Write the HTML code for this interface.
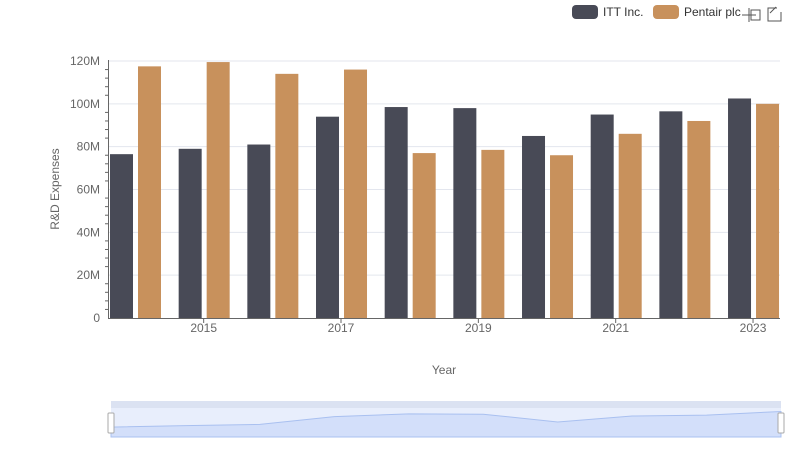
<!DOCTYPE html>
<html><head><meta charset="utf-8"><style>
body{margin:0;background:#fff;font-family:"Liberation Sans",sans-serif}
svg text{font-family:"Liberation Sans",sans-serif}
</style></head><body>
<svg id="c" width="800" height="461">
<g id="legend">
 <g><rect x="572" y="5" width="26" height="14" rx="4" fill="#484a56"/><text x="603" y="16" font-size="12" fill="#333">ITT Inc.</text></g>
 <g><rect x="653" y="5" width="26" height="14" rx="4" fill="#c8915c"/><text x="684" y="16" font-size="12" fill="#333">Pentair plc</text></g>
 <g stroke="#555" fill="none"><path d="M749 8v14M742 15h14"/><rect x="751" y="10" width="9" height="10"/></g>
 <g stroke="#555" fill="none"><path d="M777 8h-9v13h13v-9"/><path d="M776 7l-6 6"/></g>
</g>
<text x="0" y="0" transform="translate(59,189) rotate(-90)" text-anchor="middle" font-size="12" fill="#666">R&amp;D Expenses</text>
<text x="444" y="374" text-anchor="middle" font-size="12" fill="#666">Year</text>
<g id="grid"></g><g id="bars"></g><g id="axes"></g>
<g>
 <rect x="111" y="401" width="670" height="36" fill="#e8eefc"/>
 <rect x="111" y="401" width="670" height="7" fill="#dbe2f2"/>
 <path id="navArea" fill="#d3dffa" stroke="#a9c0f0"/>
 <rect x="108" y="413" width="6" height="20" fill="#fff" stroke="#aaa" rx="1"/>
 <rect x="778" y="413" width="6" height="20" fill="#fff" stroke="#aaa" rx="1"/>
</g>
</svg>
<script>
const years=[2014,2015,2016,2017,2018,2019,2020,2021,2022,2023];
const ittValues=[76.5,79,81,94,98.5,98,85,95,96.5,102.5];
const pentairValues=[117.5,119.5,114,116,77,78.5,76,86,92,100];
const yTicks=[0,20,40,60,80,100,120];
const xTickLabels=[2015,2017,2019,2021,2023];
const NS="http://www.w3.org/2000/svg";
const y=v=>318-v*(257/120);
const x=i=>135+i*68.67;
function mk(tag,attrs,parent,txt){const e=document.createElementNS(NS,tag);for(const k in attrs)e.setAttribute(k,attrs[k]);if(txt!=null)e.textContent=txt;parent.appendChild(e);return e;}
const grid=document.getElementById('grid'),bars=document.getElementById('bars'),axes=document.getElementById('axes');
yTicks.forEach(t=>{
 if(t>0){const l=mk('line',{x1:109,x2:780,y1:y(t),y2:y(t),stroke:'#e3e6ee'},grid);
 
 }
 const tx=mk('text',{x:100,y:y(t)+4,'text-anchor':'end','font-size':12,fill:'#666'},axes,t===0?'0':t+'M');
 
 
 if(t<120)for(let k=1;k<5;k++)mk('line',{x1:105,x2:108,y1:y(t+k*4),y2:y(t+k*4),stroke:'#666'},axes);
});
mk('line',{x1:108.5,x2:108.5,y1:60,y2:318,stroke:'#666'},axes);
mk('line',{x1:108,x2:780,y1:318.5,y2:318.5,stroke:'#666'},axes);
years.forEach((yr,i)=>{
 const a=mk('rect',{x:x(i)-25,y:y(ittValues[i]),width:23,height:318-y(ittValues[i]),fill:'#484a56'},bars);
 
 
 const b=mk('rect',{x:x(i)+3,y:y(pentairValues[i]),width:23,height:318-y(pentairValues[i]),fill:'#c8915c'},bars);
 
 
});
xTickLabels.forEach(yr=>{
 const i=years.indexOf(yr);
 mk('line',{x1:x(i),x2:x(i),y1:318,y2:323,stroke:'#666'},axes);
 const t=mk('text',{x:x(i),y:332,'text-anchor':'middle','font-size':12,fill:'#666'},axes,yr);
 
 
});
const nx=i=>111+i*(670/9), ny=v=>437-(v-60)*(30/50);
let d='M111 437';years.forEach((yr,i)=>{d+=' L'+nx(i)+' '+ny(ittValues[i]);});d+=' L781 437Z';
document.getElementById('navArea').setAttribute('d',d);
</script>
</body></html>
